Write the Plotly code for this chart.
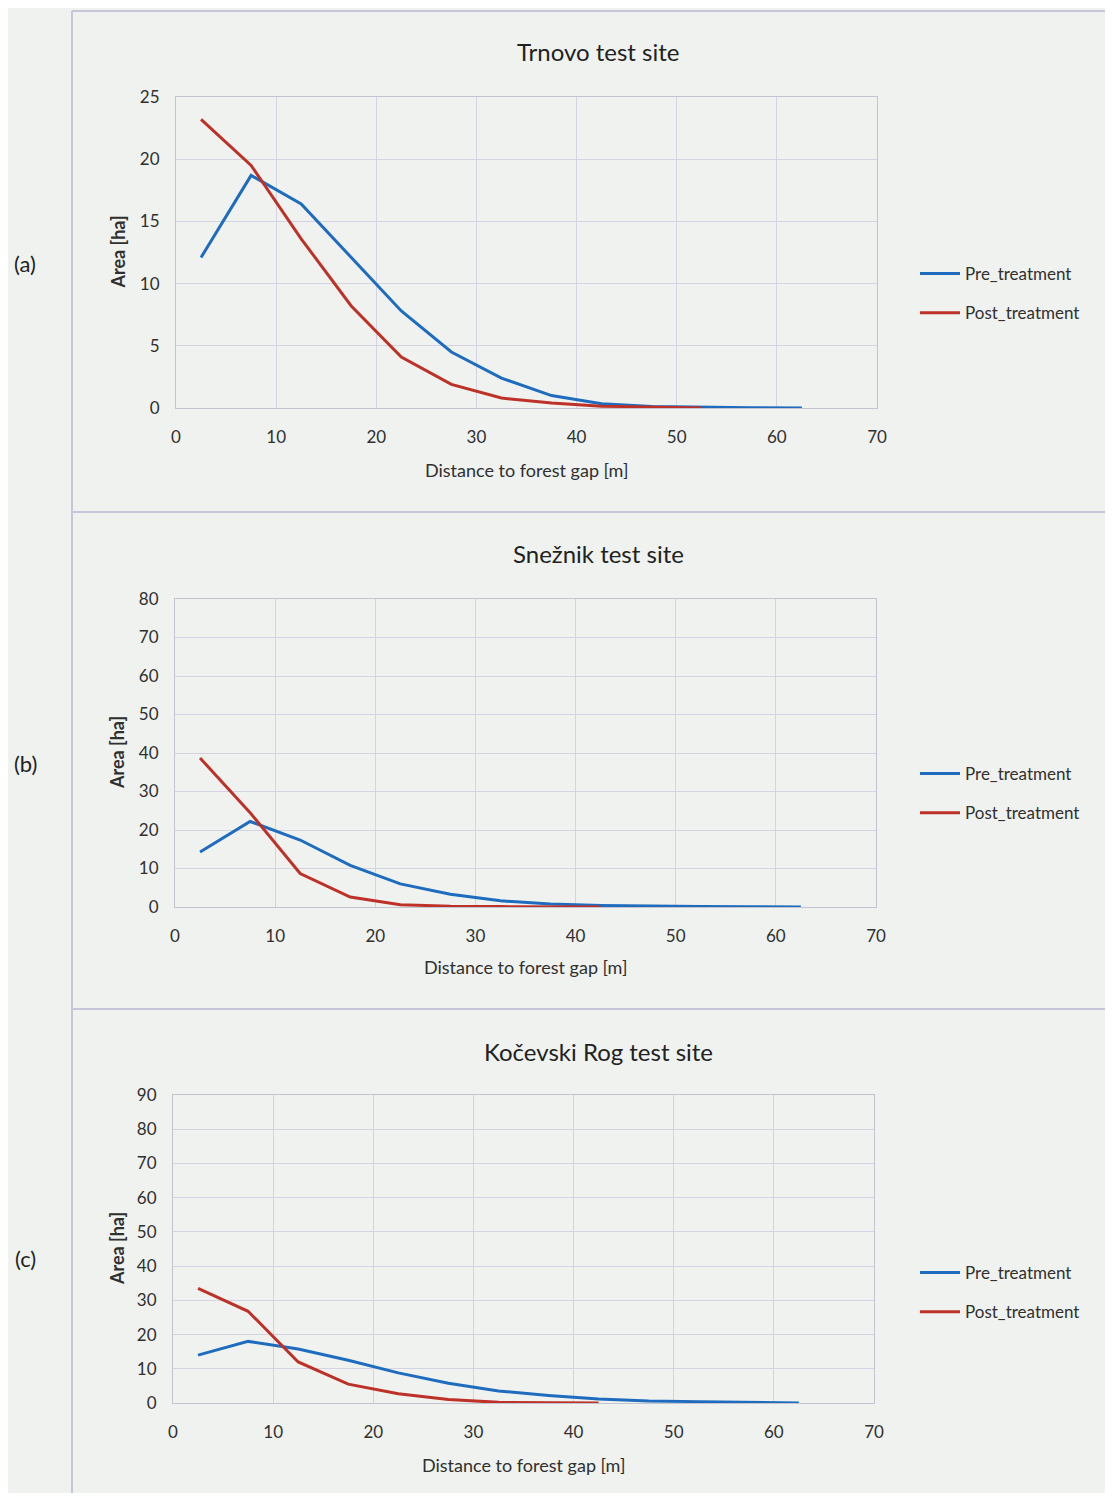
import plotly.graph_objects as go

# page has an 8px body margin; work in reference pixel coordinates and shift
OFF = 8
W, H = 1113 - 2 * OFF, 1501 - 2 * OFF

distance = [2.5, 7.5, 12.5, 17.5, 22.5, 27.5, 32.5, 37.5, 42.5, 47.5, 52.5, 57.5, 62.5]

trnovo_pre = [12.1, 18.7, 16.4, 12.1, 7.8, 4.5, 2.4, 1.0, 0.35, 0.12, 0.05, 0.02, 0.0]
trnovo_post = [23.2, 19.5, 13.6, 8.2, 4.1, 1.9, 0.8, 0.4, 0.15, 0.05, 0.0]

sneznik_pre = [14.3, 22.2, 17.4, 10.8, 6.0, 3.3, 1.6, 0.8, 0.4, 0.2, 0.1, 0.05, 0.0]
sneznik_post = [38.7, 24.5, 8.7, 2.6, 0.6, 0.2, 0.1, 0.05, 0.0]

kocevski_pre = [14.0, 18.0, 15.8, 12.5, 8.8, 5.8, 3.5, 2.2, 1.2, 0.6, 0.4, 0.3, 0.0]
kocevski_post = [33.5, 26.8, 12.0, 5.5, 2.7, 1.0, 0.2, 0.05, 0.0]

titles = ["Trnovo test site", "Snežnik test site", "Kočevski Rog test site"]
panel_labels = ["(a)", "(b)", "(c)"]
y_max = [25, 80, 90]
y_step = [5, 10, 10]
series_names = ["Pre_treatment", "Post_treatment"]

BLUE = "#1f6cbf"
RED = "#be3128"
GRID = "#d3d3e4"
BG = "#eff2ef"
FONT = "Lato"


def px(x):
    return (x - OFF) / W


def py(y):
    return 1 - (y - OFF) / H


# pixel geometry of each plot area: (x0, x1, ytop, ybottom)
boxes = [(176, 877, 97, 408), (175, 876, 599, 907), (173, 874, 1095, 1403)]
title_y = [51, 554, 1051]
xtitle_y = [470, 967, 1465]
legend_y = [256, 756, 1255]
label_y = [263, 763, 1258]

data = [(trnovo_pre, trnovo_post), (sneznik_pre, sneznik_post), (kocevski_pre, kocevski_post)]

fig = go.Figure()
annotations = []
shapes = []

for i, ((pre, post), (x0, x1, yt, yb)) in enumerate(zip(data, boxes)):
    sfx = "" if i == 0 else str(i + 1)
    leg = "legend" if i == 0 else f"legend{i+1}"
    fig.add_trace(go.Scatter(x=distance[:len(pre)], y=pre, mode="lines", name=series_names[0],
                             line=dict(color=BLUE, width=3), xaxis="x" + sfx, yaxis="y" + sfx,
                             legend=leg, legendgroup=f"pre{i}"))
    fig.add_trace(go.Scatter(x=distance[:len(post)], y=post, mode="lines", name=series_names[1],
                             line=dict(color=RED, width=3), xaxis="x" + sfx, yaxis="y" + sfx,
                             legend=leg, legendgroup=f"post{i}"))
    xdom = [px(x0), px(x1)]
    ydom = [py(yb), py(yt)]
    fig.update_layout(**{
        "xaxis" + sfx: dict(domain=xdom, range=[0, 70], dtick=10, tick0=0, anchor="y" + sfx,
                            showgrid=True, gridcolor=GRID, gridwidth=1, zeroline=False,
                            showline=True, linecolor="#c4c4d0", linewidth=1, mirror=True,
                            ticks="", ticklabelstandoff=14, automargin=False,
                            tickfont=dict(family=FONT, size=17, color="#303030")),
        "yaxis" + sfx: dict(domain=ydom, range=[0, y_max[i]], dtick=y_step[i], tick0=0,
                            anchor="x" + sfx, showgrid=True, gridcolor=GRID, gridwidth=1,
                            zeroline=False, showline=True, linecolor="#c4c4d0", linewidth=1,
                            mirror=True, ticks="", ticklabelstandoff=12, automargin=False,
                            tickfont=dict(family=FONT, size=17, color="#303030")),
        leg: dict(x=px(915), y=py(legend_y[i]), xanchor="left", yanchor="top",
                  bgcolor="rgba(0,0,0,0)", font=dict(family=FONT, size=17, color="#303030"),
                  tracegroupgap=14, itemwidth=40, traceorder="grouped"),
    })
    annotations.append(dict(text=titles[i], x=px(598), y=py(title_y[i]), xref="paper",
                            yref="paper", showarrow=False, xanchor="center", yanchor="middle",
                            font=dict(family=FONT, size=24, color="#222222")))
    annotations.append(dict(text="Distance to forest gap [m]", x=px((x0 + x1) / 2),
                            y=py(xtitle_y[i]), xref="paper", yref="paper", showarrow=False,
                            xanchor="center", yanchor="middle",
                            font=dict(family=FONT, size=18, color="#303030")))
    annotations.append(dict(text="<b>Area [ha]</b>", x=px(117), y=py((yt + yb) / 2),
                            xref="paper", yref="paper", showarrow=False, textangle=-90,
                            xanchor="center", yanchor="middle",
                            font=dict(family=FONT, size=18, color="#303030")))
    annotations.append(dict(text=panel_labels[i], x=px(25), y=py(label_y[i]),
                            xref="paper", yref="paper", showarrow=False,
                            xanchor="center", yanchor="middle",
                            font=dict(family=FONT, size=22, color="#222222")))

# panel frame lines
line_style = dict(color="#c6c6da", width=2)
shapes.append(dict(type="line", xref="paper", yref="paper", x0=px(72), x1=1.0,
                   y0=py(11), y1=py(11), line=line_style))
shapes.append(dict(type="line", xref="paper", yref="paper", x0=px(72), x1=px(72),
                   y0=0, y1=py(11), line=line_style))
for yy in (512, 1009):
    shapes.append(dict(type="line", xref="paper", yref="paper", x0=px(72), x1=1.0,
                       y0=py(yy), y1=py(yy), line=line_style))

fig.update_layout(width=W, height=H,
                  margin=dict(l=0, r=0, t=0, b=0, pad=0, autoexpand=False),
                  paper_bgcolor=BG, plot_bgcolor=BG, showlegend=True,
                  annotations=annotations, shapes=shapes,
                  font=dict(family=FONT))

fig.write_html("out.html")
